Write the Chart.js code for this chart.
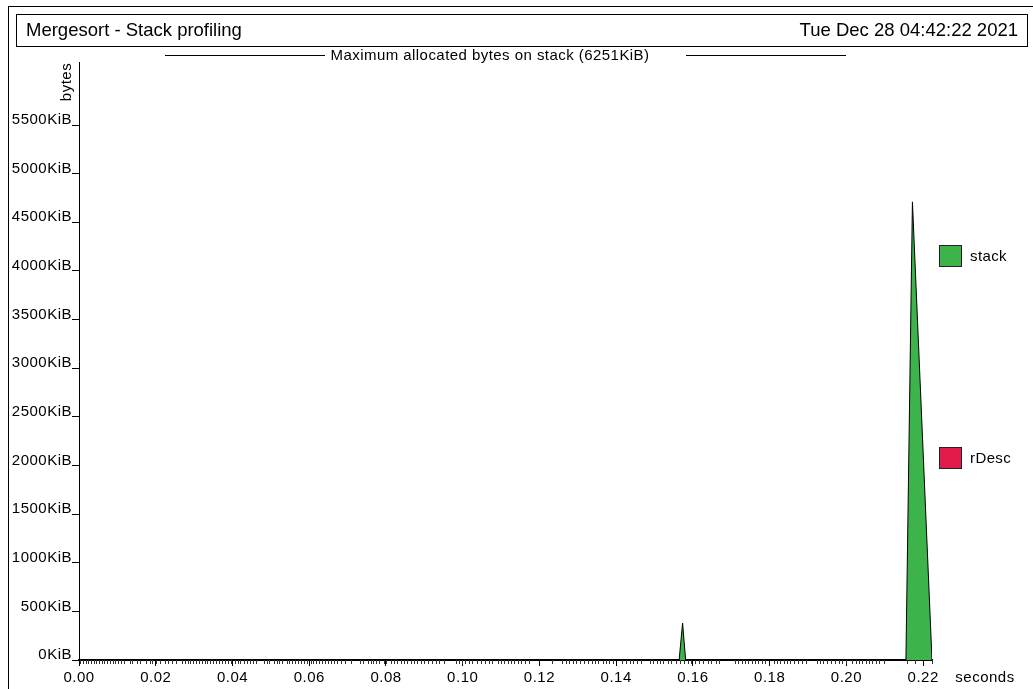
<!DOCTYPE html>
<html>
<head>
<meta charset="utf-8">
<script src="https://cdn.jsdelivr.net/npm/chart.js@4"></script>
<style>
  html, body { margin: 0; padding: 0; background: #fff; }
  #wrap { width: 1033px; height: 689px; position: relative; }
</style>
</head>
<body>
<div id="wrap"><canvas id="stackChart"></canvas></div>
<script>
// band values (KiB) at the times where the profile changes
const stackTimes = [0, 0.1564, 0.1573, 0.1581, 0.2155, 0.2172, 0.2223];
const stackValues = [0, 0, 380, 0, 0, 4710, 0];
const rDescTimes = [0, 0.2223];
const rDescValues = [0, 0];

// sample marks under the time axis
const sampleTimes = [
  0.0003, 0.0010, 0.0017, 0.0023, 0.0031, 0.0038, 0.0044, 0.0052, 0.0060, 0.0066,
  0.0073, 0.0081, 0.0089, 0.0095, 0.0102, 0.0109, 0.0117, 0.0133, 0.0139, 0.0151,
  0.0159, 0.0175, 0.0185, 0.0190, 0.0201, 0.0211, 0.0224, 0.0232, 0.0242, 0.0253,
  0.0269, 0.0276, 0.0284, 0.0289, 0.0297, 0.0305, 0.0313, 0.0321, 0.0328, 0.0334,
  0.0342, 0.0349, 0.0357, 0.0365, 0.0373, 0.0381, 0.0388, 0.0396, 0.0407, 0.0415,
  0.0420, 0.0430, 0.0438, 0.0446, 0.0454, 0.0461, 0.0482, 0.0490, 0.0495, 0.0508,
  0.0516, 0.0521, 0.0529, 0.0542, 0.0547, 0.0555, 0.0564, 0.0571, 0.0578, 0.0587,
  0.0595, 0.0604, 0.0611, 0.0618, 0.0625, 0.0632, 0.0641, 0.0649, 0.0656, 0.0665,
  0.0673, 0.0684, 0.0694, 0.0708, 0.0733, 0.0740, 0.0753, 0.0762, 0.0767, 0.0774,
  0.0783, 0.0795, 0.0800, 0.0813, 0.0821, 0.0830, 0.0839, 0.0847, 0.0856, 0.0865,
  0.0873, 0.0882, 0.0891, 0.0899, 0.0910, 0.0920, 0.0931, 0.0938, 0.0952, 0.0983,
  0.0990, 0.0997, 0.1007, 0.1016, 0.1025, 0.1038, 0.1047, 0.1059, 0.1068, 0.1077,
  0.1091, 0.1099, 0.1108, 0.1117, 0.1125, 0.1134, 0.1143, 0.1152, 0.1162, 0.1174,
  0.1233, 0.1259, 0.1270, 0.1278, 0.1287, 0.1296, 0.1306, 0.1315, 0.1327, 0.1336,
  0.1344, 0.1353, 0.1365, 0.1374, 0.1382, 0.1391, 0.1414, 0.1426, 0.1435, 0.1443,
  0.1455, 0.1464, 0.1487, 0.1497, 0.1506, 0.1515, 0.1523, 0.1536, 0.1544, 0.1556,
  0.1567, 0.1577, 0.1588, 0.1596, 0.1605, 0.1616, 0.1626, 0.1638, 0.1648, 0.1659,
  0.1669, 0.1709, 0.1718, 0.1727, 0.1735, 0.1744, 0.1753, 0.1762, 0.1770, 0.1779,
  0.1788, 0.1810, 0.1819, 0.1828, 0.1836, 0.1845, 0.1854, 0.1864, 0.1873, 0.1885,
  0.1895, 0.1923, 0.1932, 0.1940, 0.1949, 0.1960, 0.1970, 0.1981, 0.1989, 0.1998,
  0.2015, 0.2024, 0.2033, 0.2041, 0.2050, 0.2059, 0.2067, 0.2076, 0.2085, 0.2097,
  0.2158, 0.2179, 0.2222
];

const xTicks = [0, 0.02, 0.04, 0.06, 0.08, 0.10, 0.12, 0.14, 0.16, 0.18, 0.20, 0.22];
const yTicks = [0, 500, 1000, 1500, 2000, 2500, 3000, 3500, 4000, 4500, 5000, 5500];

const FONT = '"Liberation Sans", Arial, Helvetica, sans-serif';
const GREEN = '#3db34b';
const RED = '#e31b4d';

function points(ts, vs) {
  return ts.map((t, i) => ({ x: t, y: vs[i] }));
}

// the reference type is a little wider than Liberation Sans, so space it out
function spaced(c, px) {
  if ('letterSpacing' in c) c.letterSpacing = px + 'px';
}

const frame = {
  id: 'frame',
  beforeDraw(chart) {
    const c = chart.ctx;
    c.save();
    c.fillStyle = '#fff';
    c.fillRect(0, 0, chart.width, chart.height);
    c.strokeStyle = '#000';
    c.lineWidth = 1;
    c.strokeRect(8.5, 6.5, 1040, 700);
    c.strokeRect(16.5, 14.5, 1011, 32);
    c.fillStyle = '#000';
    spaced(c, 0);
    c.font = '18.5px ' + FONT;
    c.textBaseline = 'middle';
    c.textAlign = 'left';
    c.fillText('Mergesort - Stack profiling', 26, 31);
    c.textAlign = 'right';
    c.fillText('Tue Dec 28 04:42:22 2021', 1018, 31);

    // subtitle with rules either side
    spaced(c, 0.45);
    c.font = '15px ' + FONT;
    c.textAlign = 'center';
    c.fillText('Maximum allocated bytes on stack (6251KiB)', 490, 56);
    c.beginPath();
    c.moveTo(165, 55.5); c.lineTo(325, 55.5);
    c.moveTo(686, 55.5); c.lineTo(846, 55.5);
    c.stroke();

    // axis captions
    spaced(c, 0.5);
    c.fillText('seconds', 985, 678);
    c.save();
    c.translate(67, 82);
    c.rotate(-Math.PI / 2);
    c.fillText('bytes', 0, 0);
    c.restore();
    c.restore();
    // tick labels drawn by the scales pick this up
    spaced(c, 0.5);
  },
  afterDraw(chart) {
    const c = chart.ctx;
    const xs = chart.scales.x;
    const base = chart.chartArea.bottom;
    c.save();
    c.strokeStyle = '#333';
    c.lineWidth = 1;
    c.beginPath();
    sampleTimes.forEach(t => {
      const px = Math.round(xs.getPixelForValue(t)) + 0.5;
      c.moveTo(px, base);
      c.lineTo(px, base + 4);
    });
    c.stroke();

    const items = [
      { label: 'stack', color: chart.data.datasets[0].backgroundColor, y: 245 },
      { label: 'rDesc', color: chart.data.datasets[1].backgroundColor, y: 447 }
    ];
    c.font = '15px ' + FONT;
    spaced(c, 0.4);
    c.textAlign = 'left';
    c.textBaseline = 'middle';
    items.forEach(it => {
      c.fillStyle = it.color;
      c.fillRect(939, it.y, 23, 22);
      c.strokeStyle = '#222';
      c.strokeRect(939.5, it.y + 0.5, 22, 21);
      c.fillStyle = '#000';
      c.fillText(it.label, 970, it.y + 12);
    });
    c.restore();
  }
};

const ctx = document.getElementById('stackChart').getContext('2d');
new Chart(ctx, {
  type: 'line',
  data: {
    datasets: [
      {
        label: 'stack',
        data: points(stackTimes, stackValues),
        backgroundColor: GREEN,
        borderColor: '#000',
        borderWidth: 1,
        fill: 'origin',
        pointRadius: 0,
        tension: 0
      },
      {
        label: 'rDesc',
        data: points(rDescTimes, rDescValues),
        backgroundColor: RED,
        borderColor: '#000',
        borderWidth: 0,
        fill: 'origin',
        pointRadius: 0,
        tension: 0
      }
    ]
  },
  options: {
    responsive: true,
    maintainAspectRatio: false,
    animation: false,
    devicePixelRatio: 1,
    layout: { padding: { left: 8, right: 101, top: 62, bottom: 0 } },
    plugins: { legend: { display: false }, tooltip: { enabled: false } },
    scales: {
      x: {
        type: 'linear',
        min: 0,
        max: 0.2223,
        afterFit: s => { s.height = 29; },
        afterBuildTicks: s => { s.ticks = xTicks.map(v => ({ value: v })); },
        border: { color: '#000', width: 2 },
        grid: { drawOnChartArea: false, color: '#000', tickLength: 6 },
        ticks: {
          color: '#000',
          font: { family: FONT, size: 15 },
          padding: 3,
          maxRotation: 0,
          autoSkip: false,
          callback: v => v.toFixed(2)
        }
      },
      y: {
        min: 0,
        max: 6148,
        afterFit: s => { s.width = 71; },
        afterBuildTicks: s => { s.ticks = yTicks.map(v => ({ value: v })); },
        border: { color: '#000', width: 1 },
        grid: { drawOnChartArea: false, color: '#000', tickLength: 7 },
        ticks: {
          color: '#000',
          font: { family: FONT, size: 15 },
          padding: 0,
          labelOffset: -5,
          autoSkip: false,
          callback: v => v + 'KiB'
        }
      }
    }
  },
  plugins: [frame]
});
</script>
</body>
</html>
